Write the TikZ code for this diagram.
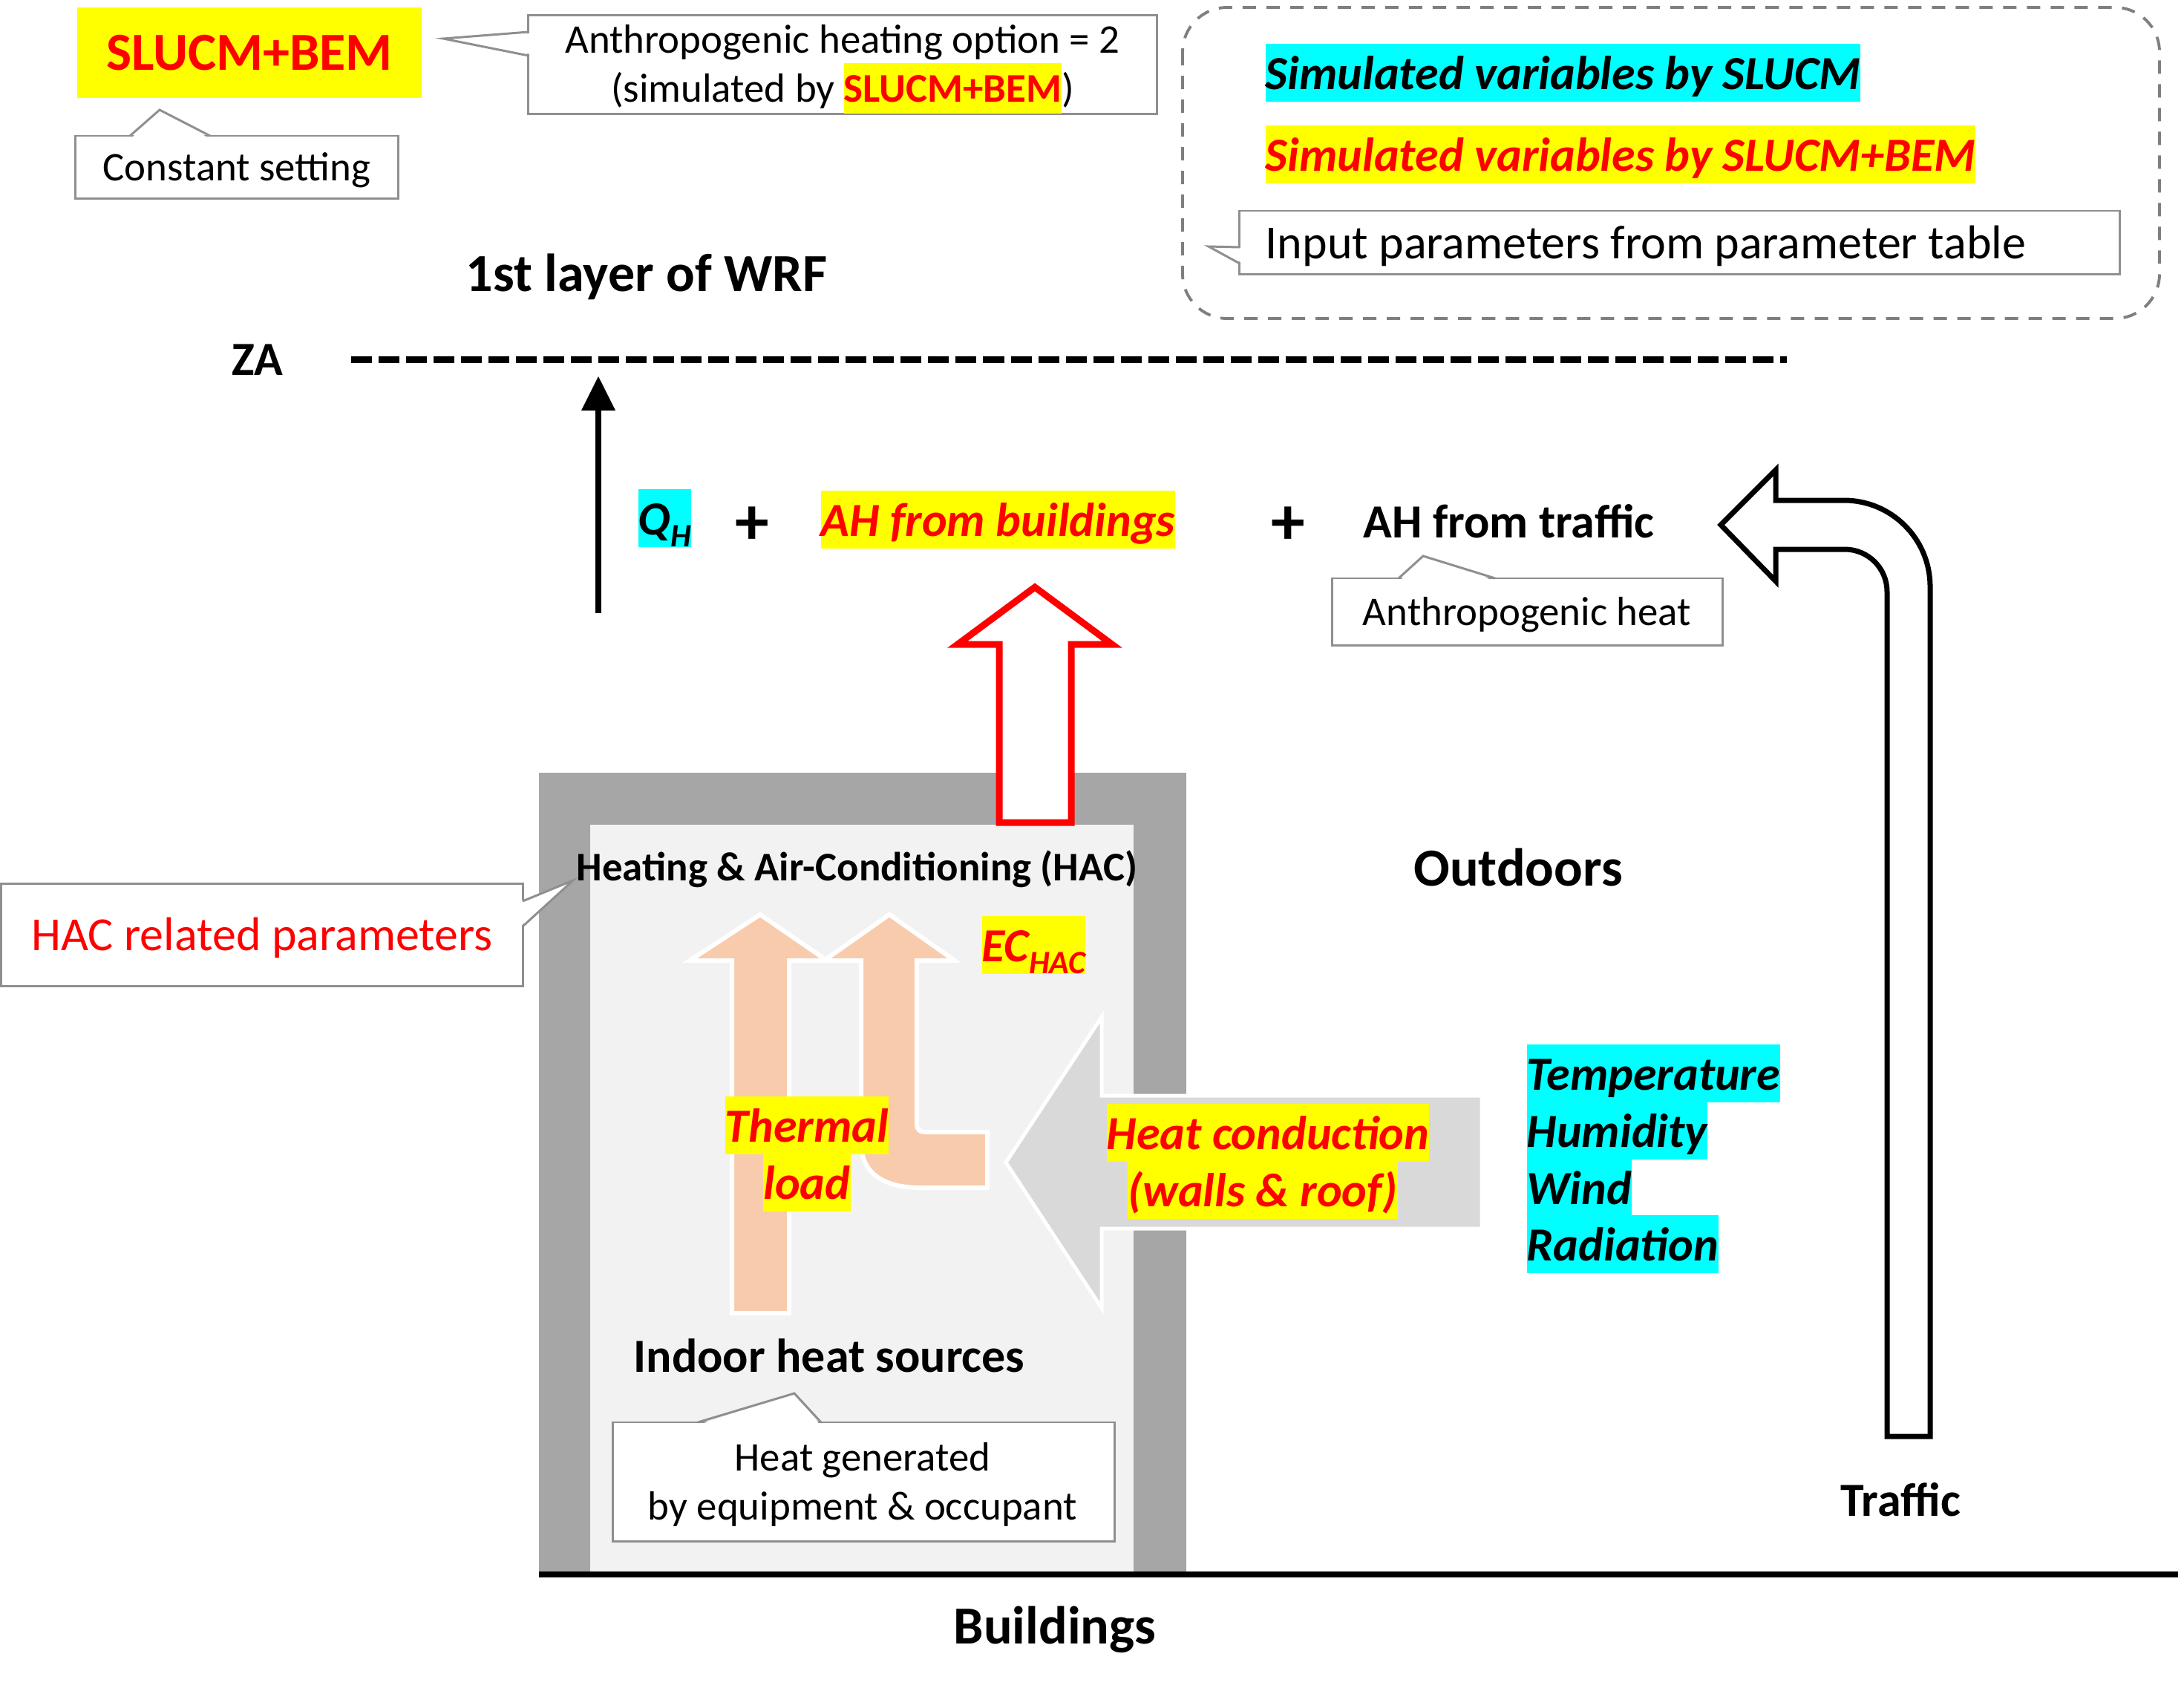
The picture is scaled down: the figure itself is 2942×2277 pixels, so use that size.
\documentclass[tikz,border=0pt]{standalone}
\usepackage{fontspec}
\setmainfont{Carlito}

\definecolor{wall}{HTML}{A6A6A6}
\definecolor{room}{HTML}{F2F2F2}
\definecolor{cond}{HTML}{D9D9D9}
\definecolor{peach}{HTML}{F8CBAD}
\definecolor{callgray}{HTML}{8F8F8F}
\definecolor{dashgray}{HTML}{7F7F7F}
\definecolor{aqua}{HTML}{00FFFF}
\definecolor{hlyellow}{HTML}{FFFF00}
\definecolor{hlred}{HTML}{FF0000}

\newcommand{\hly}[1]{{\setlength{\fboxsep}{0pt}\colorbox{hlyellow}{\rule[-0.29em]{0pt}{1.24em}\textcolor{hlred}{\bfseries #1}}}}

\tikzset{
  big/.style={font=\fontsize{20.5}{24}\selectfont\bfseries},
  lbl/.style={font=\fontsize{18.2}{22}\selectfont\bfseries},
  mid/.style={font=\fontsize{18.2}{22}\selectfont},
  small/.style={font=\fontsize{15.6}{18}\selectfont},
  ital/.style={font=\fontsize{18.2}{22}\selectfont\bfseries\itshape},
  hl/.style={ital, text height=0.61cm, text depth=0.17cm},
  hlsim/.style={hl, fill=aqua},
  hlbem/.style={hl, fill=hlyellow, text=hlred},
  callout/.style={draw=callgray, line width=0.85pt, fill=white},
  callline/.style={draw=callgray, line width=0.85pt, line join=miter}
}

\begin{document}
\begin{tikzpicture}[x=0.01cm, y=0.01cm]
\tikzstyle{every node}+=[inner sep=0pt]
\useasboundingbox (0,0) rectangle (2942,-2277);

% legend
\draw [dashgray, line width=1.1pt, dash pattern=on 0.18cm off 0.14cm, rounded corners=0.6cm] (1593,-10) rectangle (2909,-429);
\node [hlsim, anchor=base west] (legslucm) at (1704,-120) {Simulated variables by SLUCM};
\node [hlbem, anchor=base west] (legbem) at (1704,-230) {Simulated variables by SLUCM+BEM};
\node [callout, minimum width=11.85cm, minimum height=0.85cm] (parbox) at (2262.5,-326.5) {};
\fill [white] (1673,-334) -- (1628,-332) -- (1673,-354) -- cycle;
\draw [callline] (1670,-333) -- (1628,-332) -- (1670,-355);
\node [mid, anchor=base west] (partxt) at (1704,-348) {Input parameters from parameter table};

% model name
\node [big, fill=hlyellow, text=hlred, minimum width=4.63cm, minimum height=1.22cm] (slucm) at (336,-71) {SLUCM+BEM};
\node [callout, minimum width=4.34cm, minimum height=0.84cm] (constbox) at (319,-225) {};
\fill [white] (177,-186) -- (215,-148) -- (281,-186) -- cycle;
\draw [callline] (175,-183) -- (215,-148) -- (283,-183);
\node [small, anchor=base] (consttxt) at (319,-243) {Constant setting};

\node [callout, minimum width=8.46cm, minimum height=1.32cm] (optbox) at (1135,-87) {};
\fill [white] (715,-45) -- (597,-52) -- (715,-73) -- cycle;
\draw [callline] (712,-43) -- (597,-52) -- (712,-75);
\node [small, anchor=base] (opttxt) at (1135,-71) {Anthropogenic heating option = 2};
\node [small, anchor=base] (opttxtb) at (1135,-137) {(simulated by \hly{SLUCM+BEM})};

% first layer
\node [big, anchor=base] (wrf) at (871,-392) {1st layer of WRF};
\node [lbl, anchor=base west] (za) at (312,-505) {ZA};
\draw [line width=0.09cm, dash pattern=on 0.28cm off 0.09cm] (473,-484) -- (2407,-484);

% sensible heat flux
\coordinate (qlow) at (806,-826);
\coordinate (qhead) at (806,-553);
\coordinate (qtip) at (806,-507);
\draw [line width=0.08cm] (qlow) -- (qhead);
\fill (qtip) -- ([xshift=-0.23cm]qhead) -- ([xshift=0.23cm]qhead) -- cycle;

\node [hlsim, anchor=base west] (qh) at (859,-720) {Q\raisebox{-0.26em}{\fontsize{12.5}{14}\selectfont H}};
\node [lbl, font=\fontsize{26}{30}\selectfont\bfseries] (plusa) at (1013,-708) {+};
\node [hlbem, anchor=base west] (ahbld) at (1105,-722) {AH from buildings};
\node [lbl, font=\fontsize{26}{30}\selectfont\bfseries] (plusb) at (1735,-708) {+};
\node [lbl, anchor=base west] (ahtrf) at (1836,-724) {AH from traffic};

\node [callout, minimum width=5.25cm, minimum height=0.9cm] (ahbox) at (2057.5,-824) {};
\fill [white] (1886,-782) -- (1917,-749) -- (2012,-782) -- cycle;
\draw [callline] (1884,-779) -- (1917,-749) -- (2014,-779);
\node [small, anchor=base] (ahtxt) at (2057,-842) {Anthropogenic heat};

% building
\fill [wall] (726,-1041) rectangle (1598,-2117);
\fill [room] (795,-1111) rectangle (1527,-2117);
\draw [line width=0.08cm] (726,-2121) -- (2934,-2121);

\draw [hlred, line width=0.09cm, fill=white, line join=miter] (1346,-1108) -- (1346,-868) -- (1290,-868) -- (1394,-791) -- (1498,-868) -- (1443,-868) -- (1443,-1108) -- cycle;

\node [small, font=\fontsize{15.6}{18}\selectfont\bfseries, anchor=base west] (hac) at (776,-1186) {Heating \& Air-Conditioning (HAC)};
\node [callout, minimum width=7.02cm, minimum height=1.37cm] (hacbox) at (353,-1259.5) {};
\fill [white] (701,-1214) -- (772,-1186) -- (701,-1248) -- cycle;
\draw [callline] (704,-1214) -- (772,-1186) -- (704,-1248);
\node [mid, text=hlred, anchor=base] (hactxt) at (353,-1280) {HAC related parameters};

% thermal load
\filldraw [fill=peach, draw=white, line width=0.06cm] (986,-1769) -- (986,-1294) -- (929,-1294) -- (1024,-1232) -- (1114,-1294) -- (1063,-1294) -- (1063,-1769) -- cycle;
\filldraw [fill=peach, draw=white, line width=0.06cm] (1330,-1525) -- (1245,-1525) .. controls (1239,-1525) and (1235,-1521) .. (1235,-1515) -- (1235,-1294) -- (1286,-1294) -- (1198,-1232) -- (1110,-1294) -- (1160,-1294) -- (1160,-1540) .. controls (1160,-1580) and (1190,-1600) .. (1240,-1600) -- (1330,-1600) -- cycle;
\node [hlbem, anchor=base west] (echac) at (1322,-1295) {EC\raisebox{-0.26em}{\fontsize{12.5}{14}\selectfont HAC}};

% heat conduction
\filldraw [fill=cond, draw=white, line width=0.05cm] (1996,-1476) -- (1484,-1476) -- (1484,-1370) -- (1355,-1566) -- (1484,-1762) -- (1484,-1655) -- (1996,-1655) -- cycle;
\node [hlbem, anchor=base] (thermal) at (1087,-1538) {Thermal};
\node [hlbem, anchor=base] (load) at (1087,-1615) {load};
\node [hlbem, anchor=base] (cond) at (1708,-1548) {Heat conduction};
\node [hlbem, anchor=base] (condb) at (1701,-1625) {(walls \& roof)};

% outdoor variables
\node [big, anchor=base] (outdoors) at (2045,-1193) {Outdoors};
\node [hlsim, anchor=base west] (temp) at (2056,-1468) {Temperature};
\node [hlsim, anchor=base west] (humid) at (2056,-1545) {Humidity};
\node [hlsim, anchor=base west] (wind) at (2056,-1622) {Wind};
\node [hlsim, anchor=base west] (rad) at (2056,-1698) {Radiation};

% indoor sources
\node [lbl, anchor=base] (indoor) at (1117,-1848) {Indoor heat sources};
\node [callout, minimum width=6.75cm, minimum height=1.6cm] (genbox) at (1163.5,-1996) {};
\fill [white] (942,-1919) -- (1070,-1877) -- (1104,-1919) -- cycle;
\draw [callline] (940,-1916) -- (1070,-1877) -- (1106,-1916);
\node [small, anchor=base] (gentxt) at (1162,-1981) {Heat generated};
\node [small, anchor=base] (gentxtb) at (1162,-2047) {by equipment \& occupant};

% traffic
\draw [line width=0.07cm, fill=white, line join=miter] (2542,-1935) -- (2542,-797) .. controls (2542,-765.5) and (2516.5,-740) .. (2485,-740) -- (2392,-740) -- (2392,-783) -- (2318,-707) -- (2392,-633) -- (2392,-674) -- (2484,-674) .. controls (2548,-674) and (2600,-726) .. (2600,-790) -- (2600,-1935) -- cycle;
\node [lbl, anchor=base] (traffic) at (2560,-2042) {Traffic};
\node [big, anchor=base] (bldg) at (1421,-2214) {Buildings};
\end{tikzpicture}
\end{document}
